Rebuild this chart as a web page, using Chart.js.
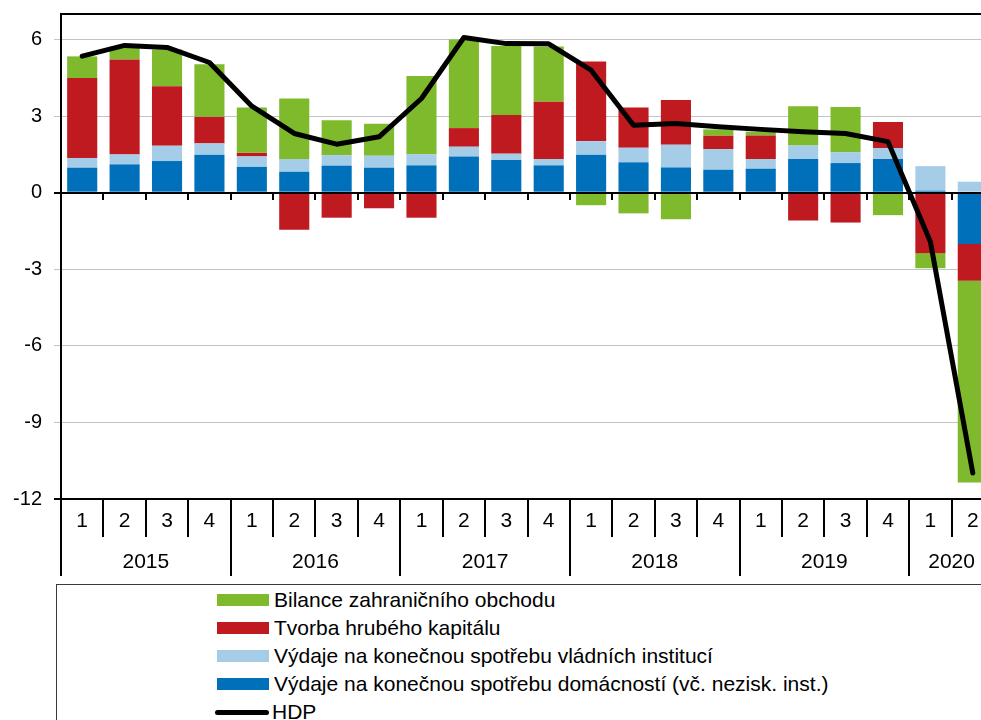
<!DOCTYPE html>
<html>
<head>
<meta charset="utf-8">
<script src="https://cdn.jsdelivr.net/npm/chart.js@4/dist/chart.umd.min.js"></script>
<style>
  html, body { margin: 0; padding: 0; background: #fff; overflow: hidden; width: 981px; height: 720px; }
  #wrap { position: absolute; left: 0; top: 0; width: 994px; height: 580px; }
  #legend { position: absolute; left: 56px; top: 584px; width: 1000px; height: 200px;
            border: 1.5px solid #3a3a3a; box-sizing: border-box;
            font-family: "Liberation Sans", Arial, sans-serif; font-size: 21px; color: #000; }
  .item { position: absolute; left: 160px; height: 28px; display: flex; align-items: center; white-space: nowrap; }
  .sw { width: 52px; height: 12px; margin-right: 5px; }
  .ln { width: 54px; height: 5px; border-radius: 3px; background: #000; margin-left: -2px; margin-right: 3px; }
</style>
</head>
<body>
<div id="wrap"><canvas id="c" width="994" height="580"></canvas></div>
<div id="legend"></div>
<script>
// ---- data ----
const quarters = ['1','2','3','4','1','2','3','4','1','2','3','4','1','2','3','4','1','2','3','4','1','2'];
const years = ['2015','2016','2017','2018','2019','2020'];
const quartersPerYear = [4,4,4,4,4,2];

const households = [0.98,1.11,1.24,1.49, 1.01,0.82,1.06,0.98, 1.07,1.42,1.28,1.07, 1.49,1.19,0.99,0.90, 0.94,1.32,1.16,1.32, 0.08,-2.01];
const government = [0.38,0.39,0.60,0.44, 0.41,0.50,0.41,0.47, 0.44,0.38,0.25,0.25, 0.53,0.57,0.89,0.81, 0.38,0.53,0.43,0.43, 0.96,0.43];
const capital    = [3.13,3.72,2.33,1.04, 0.14,-1.45,-0.98,-0.61, -0.98,0.73,1.51,2.24, 3.12,1.58,1.75,0.52, 0.92,-1.09,-1.17,1.02, -2.37,-1.44];
const trade      = [0.85,0.50,1.44,2.06, 1.78,2.37,1.37,1.25, 3.06,3.47,2.71,2.17, -0.49,-0.81,-1.04,0.25, 0.15,1.54,1.77,-0.88, -0.59,-7.90];
const hdp        = [5.35,5.77,5.69,5.10, 3.39,2.32,1.90,2.19, 3.69,6.08,5.84,5.83, 4.80,2.64,2.71,2.58, 2.48,2.39,2.32,2.00, -1.92,-10.98];

const yTickValues = [-12,-9,-6,-3,0,3,6];
const yMin = -12, yMax = 7;

const seriesNames = {
  trade: 'Bilance zahraničního obchodu',
  capital: 'Tvorba hrubého kapitálu',
  government: 'Výdaje na konečnou spotřebu vládních institucí',
  households: 'Výdaje na konečnou spotřebu domácností (vč. nezisk. inst.)',
  hdp: 'HDP'
};
const colors = { trade: '#7FBA2D', capital: '#C01A21', government: '#A6CDE8', households: '#0070BB', hdp: '#000000' };

// ---- year axis ticks built from the category structure ----
const yearSeparators = [];
const yearCenters = [];
let start = -0.5;
quartersPerYear.forEach((n) => {
  yearSeparators.push(start);
  yearCenters.push(start + n / 2);
  start += n;
});
yearSeparators.push(start);

const XFONT = { family: '"Liberation Sans", Arial, sans-serif', size: 21 };
const YFONT = { family: '"Liberation Sans", Arial, sans-serif', size: 20 };

const barDs = (key, data) => ({
  type: 'bar', label: seriesNames[key], data, backgroundColor: colors[key],
  borderWidth: 0, stack: 'bars', order: 2,
  barPercentage: 0.71, categoryPercentage: 1.0
});

new Chart(document.getElementById('c'), {
  data: {
    labels: quarters,
    datasets: [
      barDs('households', households),
      barDs('government', government),
      barDs('capital', capital),
      barDs('trade', trade),
      { type: 'line', label: seriesNames.hdp, data: hdp, borderColor: '#000', backgroundColor: '#000',
        borderWidth: 5, pointRadius: 0, tension: 0, stack: 'line', order: 0,
        borderCapStyle: 'round', borderJoinStyle: 'round' }
    ]
  },
  options: {
    responsive: false, animation: false, devicePixelRatio: 1,
    layout: { padding: { top: 14, left: 0, right: 0, bottom: 4 } },
    plugins: { legend: { display: false }, tooltip: { enabled: false } },
    scales: {
      x: {
        type: 'category', position: 'bottom', offset: true, stacked: true,
        grid: { offset: true, drawOnChartArea: false, tickLength: 38, color: '#000', lineWidth: 2 },
        border: { color: '#000', width: 2 },
        ticks: { font: XFONT, color: '#000', padding: -28, maxRotation: 0, autoSkip: false },
        afterFit: (s) => { s.height = 38; }
      },
      x2: {
        type: 'linear', position: 'bottom', min: -0.5, max: quarters.length - 0.5,
        afterBuildTicks: (s) => {
          s.ticks = yearSeparators.concat(yearCenters).sort((a, b) => a - b).map(v => ({ value: v }));
        },
        grid: { drawOnChartArea: false, tickLength: 39, lineWidth: 2,
          color: (ctx) => (ctx.tick && yearSeparators.includes(ctx.tick.value)) ? '#000' : 'rgba(0,0,0,0)' },
        border: { display: false },
        ticks: { font: XFONT, color: '#000', padding: -26, maxRotation: 0, autoSkip: false,
          callback: (v) => { const i = yearCenters.indexOf(v); return i >= 0 ? years[i] : ''; } },
        afterFit: (s) => { s.height = 39; }
      },
      xz: {
        type: 'category', position: { y: 0 }, offset: true,
        grid: { offset: true, drawOnChartArea: false, tickLength: 6, color: '#000', lineWidth: 2 },
        border: { color: '#000', width: 2, z: 1 },
        ticks: { display: false }
      },
      y: {
        type: 'linear', position: 'left', min: yMin, max: yMax, stacked: true,
        afterBuildTicks: (s) => { s.ticks = yTickValues.concat([yMax]).map(v => ({ value: v })); },
        grid: {
          tickLength: 7,
          color: (ctx) => { const v = ctx.tick && ctx.tick.value; return (v === yMax || v === 0 || v === yMin) ? '#000' : '#c4c4c4'; },
          tickColor: (ctx) => { const v = ctx.tick && ctx.tick.value; return v === yMax ? 'rgba(0,0,0,0)' : ((v === 0 || v === yMin) ? '#000' : '#c4c4c4'); },
          lineWidth: (ctx) => { const v = ctx.tick && ctx.tick.value; return (v === yMax || v === 0 || v === yMin) ? 2 : 1; }
        },
        border: { color: '#000', width: 2 },
        ticks: { font: YFONT, color: '#000', padding: 12, autoSkip: false,
          callback: (v) => v === yMax ? '' : String(v) },
        afterFit: (s) => { s.width = 61; s.paddingTop = 0; s.paddingBottom = 0; }
      }
    }
  }
});

// ---- HTML legend ----
const legendOrder = ['trade', 'capital', 'government', 'households', 'hdp'];
const lg = document.getElementById('legend');
legendOrder.forEach((k, i) => {
  const d = document.createElement('div');
  d.className = 'item';
  d.style.top = (1 + i * 28) + 'px';
  const sw = document.createElement('span');
  if (k === 'hdp') { sw.className = 'ln'; } else { sw.className = 'sw'; sw.style.background = colors[k]; }
  d.appendChild(sw);
  const t = document.createElement('span');
  t.textContent = seriesNames[k];
  d.appendChild(t);
  lg.appendChild(d);
});
</script>
</body>
</html>
